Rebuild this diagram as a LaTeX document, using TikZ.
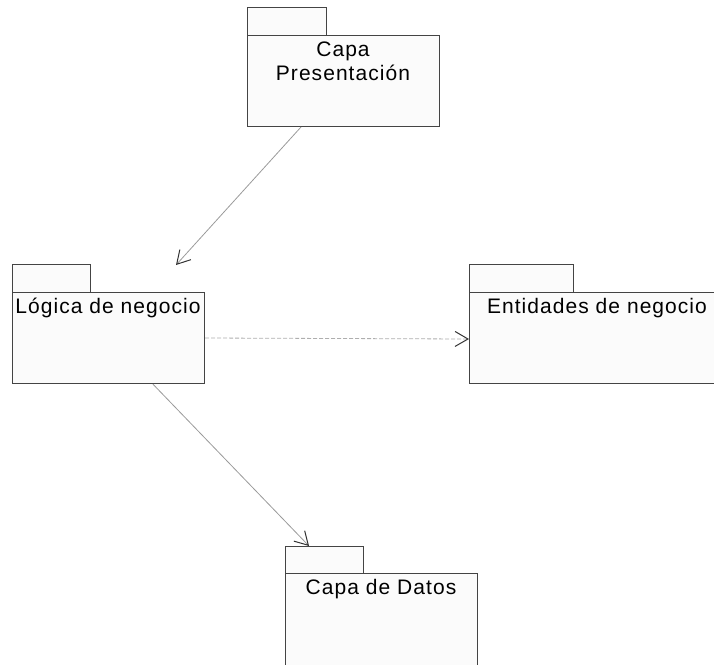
\documentclass[tikz,border=0pt]{standalone}
\usepackage{fontspec}
\setmainfont{Liberation Sans}[LetterSpace=5]
\usetikzlibrary{arrows.meta}
\definecolor{pkgline}{HTML}{444444}
\definecolor{pkgfill}{HTML}{FBFBFB}
\definecolor{conn}{HTML}{9A9A9A}
\definecolor{tip}{HTML}{333333}
\tikzset{
  pkgbox/.style={draw=pkgline, fill=pkgfill, line width=1.2pt, rectangle, inner sep=0pt, anchor=north west},
  lbl/.style={font=\fontsize{21}{24}\selectfont, text=black, inner sep=0pt, anchor=base, align=center},
  conline/.style={draw=conn, line width=0.8pt, -{Straight Barb[length=13pt,width=15pt,color=tip,line width=1pt]}},
}
\begin{document}
\begin{tikzpicture}[x=1pt,y=-1pt]
\useasboundingbox (0,0) rectangle (714,664);
\clip (0,0) rectangle (714,664);
% Capa Presentacion
\node[pkgbox, minimum width=79pt, minimum height=28pt] (Pt) at (247,7) {};
\node[pkgbox, minimum width=192pt, minimum height=91pt] (P) at (247,35) {};
\node[lbl] (Pl) at (343,80) {Capa\\Presentación};
% Logica de negocio
\node[pkgbox, minimum width=78pt, minimum height=28pt] (Lt) at (12,264) {};
\node[pkgbox, minimum width=192pt, minimum height=91pt] (L) at (12,292) {};
\node[lbl] (Ll) at (108,313) {Lógica de negocio};
% Entidades de negocio
\node[pkgbox, minimum width=104pt, minimum height=28pt] (Et) at (469,264) {};
\node[pkgbox, minimum width=256pt, minimum height=91pt] (E) at (469,292) {};
\node[lbl] (El) at (597,313) {Entidades de negocio};
% Capa de Datos
\node[pkgbox, minimum width=78pt, minimum height=27pt] (Dt) at (285,546) {};
\node[pkgbox, minimum width=192pt, minimum height=120pt] (D) at (285,573) {};
\node[lbl] (Dl) at (381,594) {Capa de Datos};
% connectors
\coordinate (a1) at (301,127);
\coordinate (a2) at (176,265);
\draw[conline] (a1) -- (a2);
\coordinate (b1) at (L.east |- 0,338);
\coordinate (b2) at (E.west |- 0,339);
\draw[conline, dash pattern=on 4pt off 2pt, draw=conn!80] (b1) -- (b2);
\coordinate (c1) at (L.south -| 153,0);
\coordinate (c2) at (309,546);
\draw[conline] (c1) -- (c2);
\end{tikzpicture}
\end{document}
